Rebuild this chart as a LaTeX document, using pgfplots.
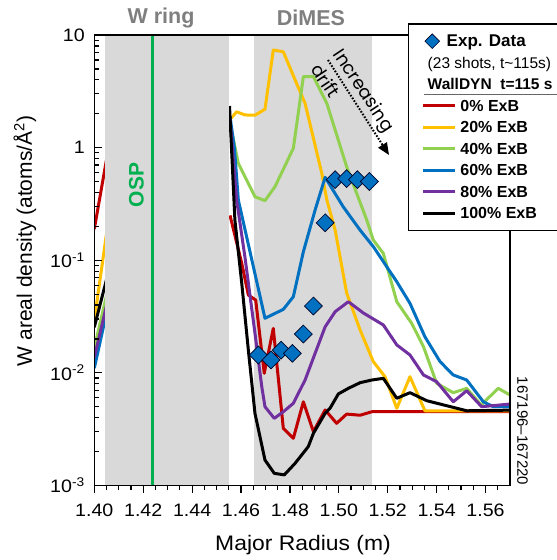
\documentclass[border=0pt]{standalone}
\usepackage{fontspec}
\setmainfont{Liberation Sans}
\newfontfamily\poppins{Poppins}
\newfontfamily\widefont[FakeStretch=1.09]{Liberation Sans}
\usepackage{pgfplots}
\pgfplotsset{compat=1.18}
\usetikzlibrary{arrows.meta}
\definecolor{cRed}{HTML}{C00000}
\definecolor{cYel}{HTML}{FFC000}
\definecolor{cGrn}{HTML}{92D050}
\definecolor{cBlu}{HTML}{0070C0}
\definecolor{cPur}{HTML}{7030A0}
\definecolor{cOSP}{HTML}{00B050}
\definecolor{cGray}{HTML}{D9D9D9}
\definecolor{cTitle}{HTML}{7F7F7F}
\pgfplotsset{
  lineimg/.style={legend image code/.code={\path (0pt,0pt) (49pt,0pt); \draw[##1] (13.3pt,0pt) -- (44.6pt,0pt);}},
  emptyimg/.style={legend image code/.code={\path (0pt,0pt) (49pt,0pt);}},
  diamimg/.style={legend image code/.code={\path (0pt,0pt) (49pt,0pt); \draw[##1] plot coordinates {(22.3pt,0pt)};}},
  sim/.style={line width=3pt, forget plot, line join=round},
}
\begin{document}
\begin{tikzpicture}
\useasboundingbox (-94.3pt,-74.6pt) rectangle (462.7pt,485.4pt);
\begin{axis}[
  at={(0pt,0pt)}, anchor=south west,
  scale only axis, width=415.7pt, height=450.4pt,
  xmin=1.40, xmax=1.57, ymin=1e-3, ymax=10, ymode=log,
  axis on top,
  axis line style={line width=1.5pt},
  xtick={1.40,1.42,1.44,1.46,1.48,1.50,1.52,1.54,1.56},
  xticklabels={1.40,1.42,1.44,1.46,1.48,1.50,1.52,1.54,1.56},
  minor xtick={1.405,1.410,1.415,1.425,1.430,1.435,1.445,1.450,1.455,1.465,1.470,1.475,1.485,1.490,1.495,1.505,1.510,1.515,1.525,1.530,1.535,1.545,1.550,1.555,1.565},
  ytick={0.001,0.01,0.1,1,10},
  yticklabels={10\textsuperscript{-3},10\textsuperscript{-2},10\textsuperscript{-1},1,10},
  minor ytick={0.002,0.003,0.004,0.005,0.006,0.007,0.008,0.009,0.02,0.03,0.04,0.05,0.06,0.07,0.08,0.09,0.2,0.3,0.4,0.5,0.6,0.7,0.8,0.9,2,3,4,5,6,7,8,9},
  xtick pos=lower, ytick pos=left,
  xtick align=outside, ytick align=inside,
  major tick length=7.7pt, minor tick length=5pt,
  every tick/.style={line width=1.2pt, black},
  xticklabel style={font=\widefont\fontsize{18}{20}\selectfont, yshift=-7pt},
  yticklabel style={font=\widefont\fontsize{18}{20}\selectfont, xshift=-6pt},
  xlabel={Major Radius (m)},
  ylabel={W areal density (atoms/Å\textsuperscript{2})},
  xlabel style={font=\widefont\fontsize{21}{24}\selectfont, at={(axis description cs:0.502,-0.1332)}, anchor=center},
  ylabel style={font=\fontsize{21}{24}\selectfont, at={(axis description cs:-0.1667,0.5426)}, anchor=center},
  legend style={at={(0.7539,1.026)}, anchor=north west, draw=black, line width=1.5pt, fill=white,
    inner xsep=0pt, inner ysep=6.4pt, row sep=0pt, column sep=0pt,
    nodes={inner sep=0pt, text height=16.45pt, text depth=5.05pt, font=\fontsize{16}{18}\selectfont\bfseries}},
  legend cell align=left,
]
% DiMES region (behind)
\fill[cGray] (axis cs:1.4652,1e-3) rectangle (axis cs:1.5136,10);
% left-edge segments
\addplot[sim, cRed] coordinates {(1.40,0.189) (1.408,1.84)};
\addplot[sim, cYel] coordinates {(1.40,0.0292) (1.408,0.501)};
\addplot[sim, cGrn] coordinates {(1.40,0.0167) (1.408,0.092)};
\addplot[sim, cBlu] coordinates {(1.40,0.011) (1.408,0.0667)};
\addplot[sim, cPur] coordinates {(1.40,0.01365) (1.408,0.0751)};
\addplot[sim, black] coordinates {(1.40,0.0254) (1.408,0.121)};
% 0% ExB
\addplot[sim, cRed] coordinates {(1.4555,0.25) (1.4603,0.0937) (1.4630,0.049) (1.4660,0.0443) (1.4695,0.0099) (1.4732,0.0248) (1.4773,0.00321) (1.4814,0.00262) (1.4855,0.00553) (1.4896,0.003) (1.4944,0.00468) (1.4991,0.00356) (1.5032,0.0043) (1.5087,0.0042) (1.5135,0.00451) (1.57,0.00451)};
% 20% ExB
\addplot[sim, cYel] coordinates {(1.4555,1.78) (1.4582,2.08) (1.4616,1.95) (1.4657,1.94) (1.4698,2.19) (1.4732,7.36) (1.4773,7.1) (1.4821,4.0) (1.4862,2.47) (1.4930,0.595) (1.4951,0.343) (1.4985,0.185) (1.5032,0.0512) (1.5087,0.024) (1.5141,0.01256) (1.5189,0.00923) (1.5237,0.00484) (1.5291,0.00923) (1.5352,0.0046) (1.57,0.0046)};
% 40% ExB
\addplot[sim, cGrn] coordinates {(1.4555,1.65) (1.4589,0.726) (1.4657,0.366) (1.4698,0.338) (1.4739,0.45) (1.4814,0.986) (1.4855,4.27) (1.4896,4.27) (1.4951,2.47) (1.5032,0.676) (1.5114,0.228) (1.5141,0.151) (1.5182,0.115) (1.5237,0.0428) (1.5298,0.0275) (1.5346,0.0171) (1.5400,0.00807) (1.5468,0.00666) (1.5523,0.00728) (1.5582,0.00518) (1.5652,0.00728) (1.57,0.00635)};
% 60% ExB
\addplot[sim, cBlu] coordinates {(1.4555,1.9) (1.4573,0.99) (1.4589,0.343) (1.4698,0.0305) (1.4773,0.0366) (1.4814,0.0474) (1.4855,0.119) (1.4903,0.279) (1.4944,0.545) (1.5018,0.298) (1.5087,0.185) (1.5141,0.132) (1.5237,0.0644) (1.5291,0.0414) (1.5352,0.0209) (1.5414,0.01256) (1.5468,0.00957) (1.5523,0.00863) (1.5591,0.00553) (1.5632,0.005) (1.57,0.005)};
% 80% ExB
\addplot[sim, cPur] coordinates {(1.4555,1.8) (1.4582,0.343) (1.4616,0.107) (1.4657,0.0225) (1.4685,0.0075) (1.4698,0.005) (1.4736,0.00394) (1.4773,0.00451) (1.4814,0.00536) (1.4862,0.00863) (1.4903,0.0149) (1.4944,0.0256) (1.4985,0.0349) (1.5039,0.0428) (1.5100,0.034) (1.5182,0.0266) (1.5237,0.0177) (1.5291,0.0144) (1.5346,0.00957) (1.5400,0.00834) (1.5468,0.00553) (1.5523,0.00693) (1.5584,0.005) (1.57,0.00528)};
% 100% ExB
\addplot[sim, black] coordinates {(1.4553,2.34) (1.4575,0.227) (1.4603,0.0624) (1.4630,0.0159) (1.4657,0.00437) (1.4698,0.00168) (1.4736,0.00128) (1.4777,0.00124) (1.4821,0.00157) (1.4875,0.00221) (1.4896,0.0029) (1.4944,0.00437) (1.4964,0.00484) (1.4998,0.00649) (1.5039,0.00728) (1.5087,0.00817) (1.5135,0.00863) (1.5182,0.00893) (1.5237,0.00594) (1.5291,0.00666) (1.5360,0.00565) (1.5523,0.0046) (1.57,0.00466)};
% W ring region (on top of lines)
\fill[cGray] (axis cs:1.4044,1e-3) rectangle (axis cs:1.4549,10);
\draw[cOSP, line width=3pt] (axis cs:1.4238,1e-3) -- (axis cs:1.4238,10);
% experimental data
\addplot[only marks, mark=square*, mark size=6.3pt, mark options={rotate=45, fill=cBlu, draw=black!85!blue, line width=0.7pt}, forget plot]
  coordinates {(1.4671,0.0144) (1.4723,0.013) (1.4764,0.0159) (1.4810,0.0149) (1.4855,0.0221) (1.4896,0.0392) (1.4944,0.215) (1.4985,0.52) (1.5032,0.53) (1.5076,0.52) (1.5125,0.50)};
% legend
\addlegendimage{only marks, mark=square*, mark size=5.2pt, mark options={rotate=45, fill=cBlu, draw=black!85!blue, line width=0.6pt}, diamimg}
\addlegendentry{\hspace{-13.7pt}\fontsize{17}{18}\selectfont Exp. Data}
\addlegendimage{emptyimg}
\addlegendentry{\hspace{-32.7pt}\mdseries\fontsize{15.5}{17}\selectfont (23 shots, t\textasciitilde 115s)}
\addlegendimage{emptyimg}
\addlegendentry{\makebox[0pt][l]{\hspace{-36.7pt}\raisebox{-5.4pt}{\textcolor{black!60}{\rule{170pt}{1.2pt}}}}\hspace{-32.7pt}\fontsize{15.5}{17}\selectfont WallDYN\ \ t=115 s}
\addlegendimage{lineimg, cRed, line width=3pt}
\addlegendentry{\makebox[110pt][l]{0\% ExB}}
\addlegendimage{lineimg, cYel, line width=3pt}
\addlegendentry{20\% ExB}
\addlegendimage{lineimg, cGrn, line width=3pt}
\addlegendentry{40\% ExB}
\addlegendimage{lineimg, cBlu, line width=3pt}
\addlegendentry{60\% ExB}
\addlegendimage{lineimg, cPur, line width=3pt}
\addlegendentry{80\% ExB}
\addlegendimage{lineimg, black, line width=3pt}
\addlegendentry{100\% ExB}
\end{axis}
\begin{scope}[x=1pt,y=-1pt,shift={(-94.3pt,485.4pt)}]
  \node[font=\fontsize{21.5}{24}\selectfont\bfseries, text=cTitle] at (161,17.7) {W ring};
  \node[font=\fontsize{21.5}{24}\selectfont\bfseries, text=cTitle] at (311,17.7) {DiMES};
  \node[font=\fontsize{21}{22}\selectfont\bfseries, text=cOSP, rotate=90] at (136.5,185) {OSP};
  \node[font=\fontsize{15}{17}\selectfont, rotate=-90] at (522.5,431) {167196–167220};
  \draw[line width=2pt, dash pattern=on 1.6pt off 1.6pt, -{Triangle[length=12pt,width=10pt]}] (328,60) -- (389,155);
  \node[font=\poppins\fontsize{18}{27}\selectfont, rotate=-56.5, align=left, inner sep=0pt] at (353.2,97.5) {Increasing\\drift};
\end{scope}
\end{tikzpicture}
\end{document}
